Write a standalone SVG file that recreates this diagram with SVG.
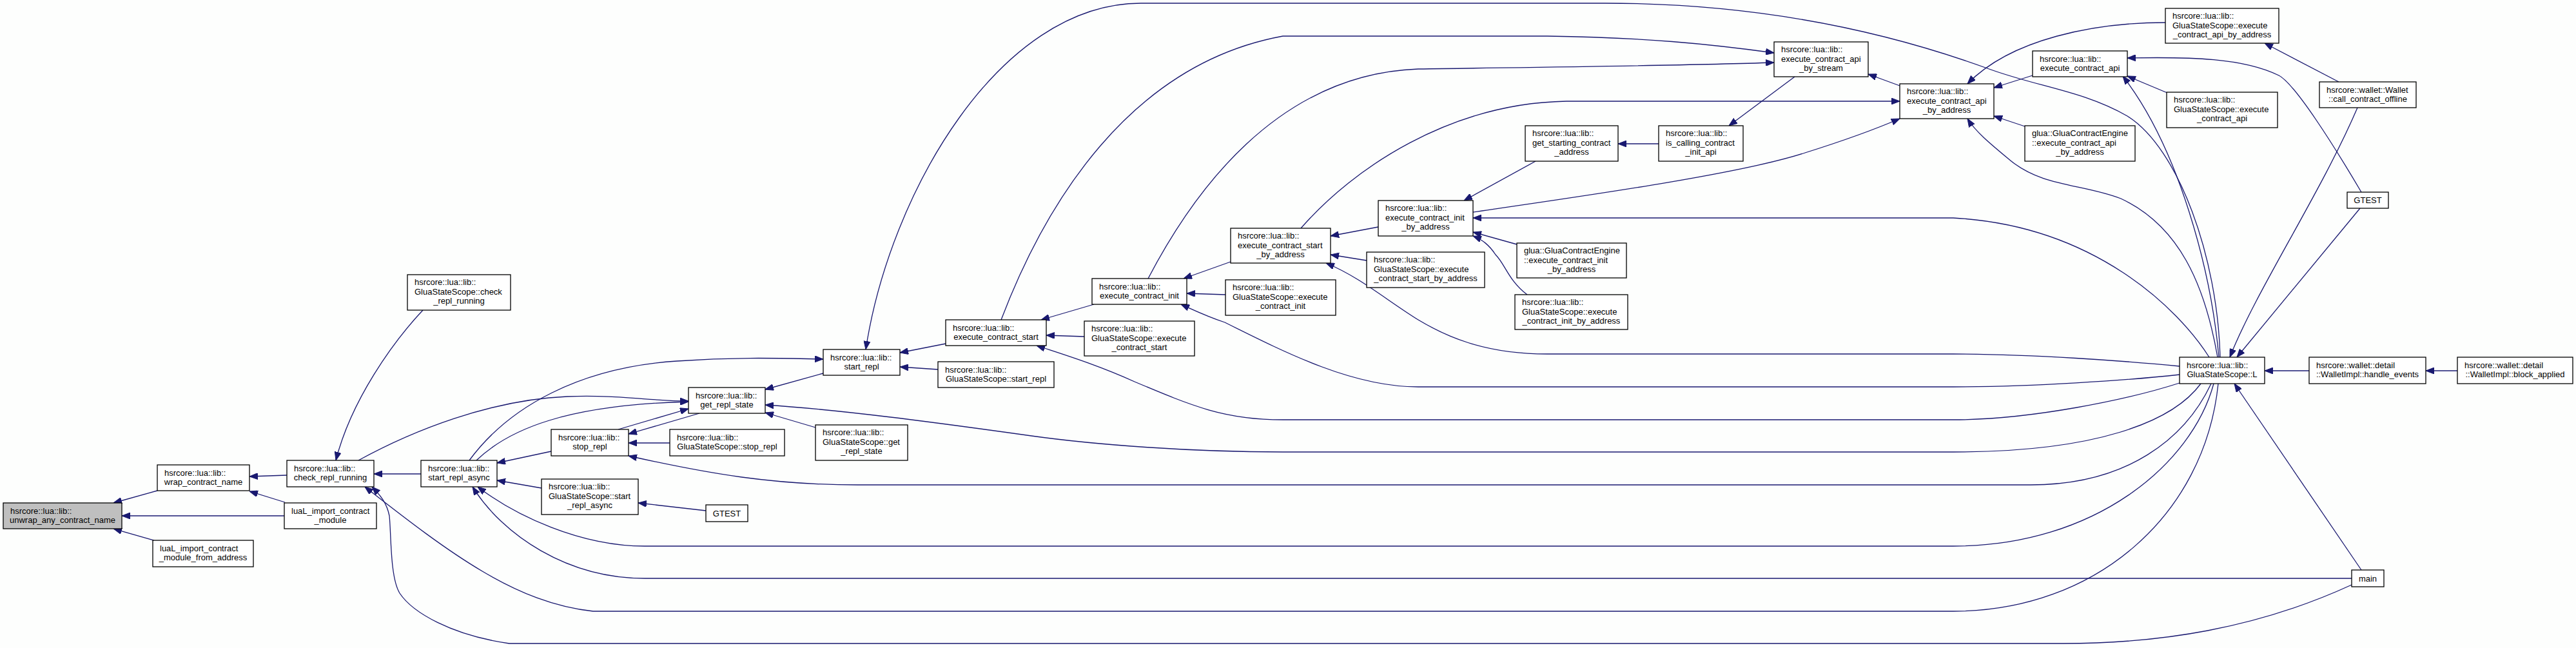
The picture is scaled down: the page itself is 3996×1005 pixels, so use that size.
<svg xmlns="http://www.w3.org/2000/svg" width="3996" height="1005" viewBox="0 0 3996 1005">
<style>
.n rect{fill:#ffffff;stroke:#000000;stroke-width:1.3}
.root rect{fill:#bfbfbf}
text{font-family:"Liberation Sans",Arial,sans-serif;font-size:13px;fill:#000000}
.c{text-anchor:middle}
.e{fill:none;stroke:#191970;stroke-width:1.3;marker-end:url(#ah)}
</style>
<defs>
<marker id="ah" viewBox="0 0 13 10" refX="13" refY="5" markerWidth="13" markerHeight="10" markerUnits="userSpaceOnUse" orient="auto">
<path d="M0,0 L13,5 L0,10 z" fill="#191970" stroke="#191970" stroke-width="1"/>
</marker>
</defs>
<rect x="0" y="0" width="3996" height="1005" fill="#fdfefd"/>
<g id="edges">
<path class="e" d="M244,761 L176,780"/>
<path class="e" d="M441,800 L189,800"/>
<path class="e" d="M239,838 L176,820"/>
<path class="e" d="M445,737 L387,739"/>
<path class="e" d="M442,779 L387,762"/>
<path class="e" d="M656,481 C610,530 545,620 521,714"/>
<path class="e" d="M653,735 L580,735"/>
<path class="e" d="M556,714 C640,668 760,620 880,615 C960,612 1010,622 1068,622"/>
<path class="e" d="M728,714 C790,630 900,570 1050,560 C1150,553 1220,556 1277,557"/>
<path class="e" d="M739,714 C790,665 880,628 1068,623"/>
<path class="e" d="M959,666 L1068,634"/>
<path class="e" d="M1085,641 L975,673"/>
<path class="e" d="M1039,687 L975,687"/>
<path class="e" d="M855,700 L771,718"/>
<path class="e" d="M840,757 L771,745"/>
<path class="e" d="M1095,792 L990,780"/>
<path class="e" d="M1277,579 L1187,604"/>
<path class="e" d="M1265,663 L1187,640"/>
<path class="e" d="M3414,595 C3370,655 3250,701 3030,701 L1990,701 C1850,701 1700,690 1600,676 C1450,655 1300,635 1187,628"/>
<path class="e" d="M3430,595 C3390,680 3300,752 3150,752 L1330,752 C1200,752 1100,735 975,707"/>
<path class="e" d="M3434,595 C3400,720 3250,847 3030,847 L1000,847 C900,847 800,800 741,755"/>
<path class="e" d="M3441,595 C3420,800 3250,948 3030,948 L920,948 C800,935 700,860 566,755"/>
<path class="e" d="M3648,897 L1000,897 C880,897 780,830 733,755"/>
<path class="e" d="M3648,907 C3500,975 3350,998 3200,998 L790,998 C700,985 640,950 620,920 C605,895 607,830 604,800 C600,780 590,768 577,755"/>
<path class="e" d="M3663,884 L3466,595"/>
<path class="e" d="M3582,575 L3513,575"/>
<path class="e" d="M3812,575 L3763,575"/>
<path class="e" d="M3657,167 C3600,300 3500,450 3459,554"/>
<path class="e" d="M3661,323 L3470,554"/>
<path class="e" d="M3628,127 L3513,67"/>
<path class="e" d="M3359,35 C3250,35 3120,60 3052,130"/>
<path class="e" d="M3663,298 C3620,225 3560,130 3535,117 C3480,90 3400,88 3300,90"/>
<path class="e" d="M3362,144 L3300,118"/>
<path class="e" d="M3442,554 C3430,420 3380,230 3293,118"/>
<path class="e" d="M3444,554 C3440,400 3380,230 3300,180 C3230,140 3160,135 3080,105 C2900,40 2700,5 2490,5 L1770,5 C1550,5 1380,300 1343,542"/>
<path class="e" d="M3440,554 C3420,440 3380,350 3290,308 C3230,285 3170,290 3120,250 C3090,225 3065,205 3052,184"/>
<path class="e" d="M3427,554 C3380,480 3250,350 3030,338 L2285,338"/>
<path class="e" d="M3381,568 C3300,560 3150,549 3030,549 L2400,549 C2300,549 2240,520 2200,496 C2150,465 2110,430 2057,408"/>
<path class="e" d="M3381,581 C3300,590 3150,600 3030,600 L2200,600 C2100,600 2000,550 1900,500 C1870,490 1850,480 1832,472"/>
<path class="e" d="M3381,594 C3300,620 3150,651 3030,651 L1990,651 C1900,651 1850,630 1760,592 C1700,565 1650,550 1608,536"/>
<path class="e" d="M2018,354 C2100,260 2250,160 2430,157 L2947,157"/>
<path class="e" d="M1781,432 C1850,300 1980,115 2200,107 C2400,104 2600,102 2752,97"/>
<path class="e" d="M1553,496 C1620,320 1750,100 1990,56 L2400,56 C2550,58 2650,68 2752,82"/>
<path class="e" d="M2784,119 L2682,195"/>
<path class="e" d="M2947,133 L2898,115"/>
<path class="e" d="M3153,117 L3093,136"/>
<path class="e" d="M3141,196 L3093,180"/>
<path class="e" d="M2285,329 C2450,305 2700,270 2800,237 C2870,215 2910,200 2947,184"/>
<path class="e" d="M2573,223 L2510,223"/>
<path class="e" d="M2382,250 L2271,311"/>
<path class="e" d="M2138,352 L2064,366"/>
<path class="e" d="M2120,404 L2064,395"/>
<path class="e" d="M2353,379 L2285,360"/>
<path class="e" d="M2369,457 C2340,435 2335,410 2320,395 C2310,380 2300,372 2285,366"/>
<path class="e" d="M1909,406 L1836,432"/>
<path class="e" d="M1901,457 L1841,455"/>
<path class="e" d="M1697,472 L1615,496"/>
<path class="e" d="M1682,522 L1623,520"/>
<path class="e" d="M1467,533 L1396,547"/>
<path class="e" d="M1455,573 L1396,569"/>
</g>
<g id="node-unwrap" class="n root"><rect x="5" y="780" width="184" height="40"/><text x="16" y="796.5">hsrcore::lua::lib::</text><text class="c" x="97" y="810.5">unwrap_any_contract_name</text></g>
<g id="node-wrap" class="n"><rect x="244" y="721" width="143" height="40"/><text x="255" y="737.5">hsrcore::lua::lib::</text><text class="c" x="315.5" y="751.5">wrap_contract_name</text></g>
<g id="node-check" class="n"><rect x="445" y="714" width="135" height="41"/><text x="456" y="730.5">hsrcore::lua::lib::</text><text class="c" x="512.5" y="744.5">check_repl_running</text></g>
<g id="node-import" class="n"><rect x="441" y="780" width="143" height="40"/><text x="452" y="796.5">luaL_import_contract</text><text class="c" x="512.5" y="810.5">_module</text></g>
<g id="node-import-addr" class="n"><rect x="237" y="838" width="156" height="41"/><text x="248" y="854.5">luaL_import_contract</text><text class="c" x="315" y="868.5">_module_from_address</text></g>
<g id="node-gss-check" class="n"><rect x="632" y="426" width="160" height="55"/><text x="643" y="442">hsrcore::lua::lib::</text><text x="643" y="456.5">GluaStateScope::check</text><text class="c" x="712" y="471">_repl_running</text></g>
<g id="node-start-async" class="n"><rect x="653" y="714" width="118" height="41"/><text x="664" y="730.5">hsrcore::lua::lib::</text><text class="c" x="712" y="744.5">start_repl_async</text></g>
<g id="node-get-state" class="n"><rect x="1068" y="601" width="119" height="40"/><text x="1079" y="617.5">hsrcore::lua::lib::</text><text class="c" x="1127.5" y="631.5">get_repl_state</text></g>
<g id="node-stop" class="n"><rect x="855" y="666" width="120" height="41"/><text x="866" y="682.5">hsrcore::lua::lib::</text><text class="c" x="915" y="696.5">stop_repl</text></g>
<g id="node-gss-stop" class="n"><rect x="1039" y="666" width="178" height="41"/><text x="1050" y="682.5">hsrcore::lua::lib::</text><text class="c" x="1128" y="696.5">GluaStateScope::stop_repl</text></g>
<g id="node-gss-start-async" class="n"><rect x="840" y="743" width="150" height="55"/><text x="851" y="759">hsrcore::lua::lib::</text><text x="851" y="773.5">GluaStateScope::start</text><text class="c" x="915" y="788">_repl_async</text></g>
<g id="node-gtest1" class="n"><rect x="1095" y="783" width="65" height="26"/><text class="c" x="1127.5" y="800.5">GTEST</text></g>
<g id="node-start-repl" class="n"><rect x="1277" y="542" width="119" height="40"/><text x="1288" y="558.5">hsrcore::lua::lib::</text><text class="c" x="1336.5" y="572.5">start_repl</text></g>
<g id="node-gss-get-state" class="n"><rect x="1265" y="659" width="143" height="55"/><text x="1276" y="675">hsrcore::lua::lib::</text><text x="1276" y="689.5">GluaStateScope::get</text><text class="c" x="1336.5" y="704">_repl_state</text></g>
<g id="node-exec-start" class="n"><rect x="1467" y="496" width="156" height="40"/><text x="1478" y="512.5">hsrcore::lua::lib::</text><text class="c" x="1545" y="526.5">execute_contract_start</text></g>
<g id="node-gss-exec-start" class="n"><rect x="1682" y="498" width="171" height="54"/><text x="1693" y="514">hsrcore::lua::lib::</text><text x="1693" y="528.5">GluaStateScope::execute</text><text class="c" x="1767.5" y="543">_contract_start</text></g>
<g id="node-gss-start-repl" class="n"><rect x="1455" y="561" width="180" height="40"/><text x="1466" y="577.5">hsrcore::lua::lib::</text><text class="c" x="1545" y="591.5">GluaStateScope::start_repl</text></g>
<g id="node-exec-init" class="n"><rect x="1694" y="432" width="147" height="40"/><text x="1705" y="448.5">hsrcore::lua::lib::</text><text class="c" x="1767.5" y="462.5">execute_contract_init</text></g>
<g id="node-start-by-addr" class="n"><rect x="1909" y="354" width="155" height="54"/><text x="1920" y="370">hsrcore::lua::lib::</text><text x="1920" y="384.5">execute_contract_start</text><text class="c" x="1986.5" y="399">_by_address</text></g>
<g id="node-gss-exec-init" class="n"><rect x="1901" y="434" width="171" height="55"/><text x="1912" y="450">hsrcore::lua::lib::</text><text x="1912" y="464.5">GluaStateScope::execute</text><text class="c" x="1986.5" y="479">_contract_init</text></g>
<g id="node-init-by-addr" class="n"><rect x="2138" y="311" width="147" height="55"/><text x="2149" y="327">hsrcore::lua::lib::</text><text x="2149" y="341.5">execute_contract_init</text><text class="c" x="2211.5" y="356">_by_address</text></g>
<g id="node-gss-start-by-addr" class="n"><rect x="2120" y="391" width="183" height="55"/><text x="2131" y="407">hsrcore::lua::lib::</text><text x="2131" y="421.5">GluaStateScope::execute</text><text class="c" x="2211.5" y="436">_contract_start_by_address</text></g>
<g id="node-get-starting" class="n"><rect x="2366" y="195" width="144" height="55"/><text x="2377" y="211">hsrcore::lua::lib::</text><text x="2377" y="225.5">get_starting_contract</text><text class="c" x="2438" y="240">_address</text></g>
<g id="node-is-calling" class="n"><rect x="2573" y="195" width="131" height="55"/><text x="2584" y="211">hsrcore::lua::lib::</text><text x="2584" y="225.5">is_calling_contract</text><text class="c" x="2638.5" y="240">_init_api</text></g>
<g id="node-glua-init" class="n"><rect x="2353" y="377" width="170" height="54"/><text x="2364" y="393">glua::GluaContractEngine</text><text x="2364" y="407.5">::execute_contract_init</text><text class="c" x="2438" y="422">_by_address</text></g>
<g id="node-gss-init-by-addr" class="n"><rect x="2350" y="457" width="175" height="54"/><text x="2361" y="473">hsrcore::lua::lib::</text><text x="2361" y="487.5">GluaStateScope::execute</text><text class="c" x="2437.5" y="502">_contract_init_by_address</text></g>
<g id="node-api-by-stream" class="n"><rect x="2752" y="65" width="146" height="54"/><text x="2763" y="81">hsrcore::lua::lib::</text><text x="2763" y="95.5">execute_contract_api</text><text class="c" x="2825" y="110">_by_stream</text></g>
<g id="node-api-by-addr" class="n"><rect x="2947" y="130" width="146" height="54"/><text x="2958" y="146">hsrcore::lua::lib::</text><text x="2958" y="160.5">execute_contract_api</text><text class="c" x="3020" y="175">_by_address</text></g>
<g id="node-api" class="n"><rect x="3153" y="79" width="147" height="40"/><text x="3164" y="95.5">hsrcore::lua::lib::</text><text class="c" x="3226.5" y="109.5">execute_contract_api</text></g>
<g id="node-glua-api" class="n"><rect x="3141" y="195" width="171" height="55"/><text x="3152" y="211">glua::GluaContractEngine</text><text x="3152" y="225.5">::execute_contract_api</text><text class="c" x="3226.5" y="240">_by_address</text></g>
<g id="node-gss-api-by-addr" class="n"><rect x="3359" y="13" width="176" height="54"/><text x="3370" y="29">hsrcore::lua::lib::</text><text x="3370" y="43.5">GluaStateScope::execute</text><text class="c" x="3447" y="58">_contract_api_by_address</text></g>
<g id="node-gss-api" class="n"><rect x="3361" y="143" width="172" height="55"/><text x="3372" y="159">hsrcore::lua::lib::</text><text x="3372" y="173.5">GluaStateScope::execute</text><text class="c" x="3447" y="188">_contract_api</text></g>
<g id="node-wallet" class="n"><rect x="3598" y="127" width="150" height="40"/><text x="3609" y="143.5">hsrcore::wallet::Wallet</text><text class="c" x="3673" y="157.5">::call_contract_offline</text></g>
<g id="node-gtest2" class="n"><rect x="3641" y="298" width="64" height="25"/><text class="c" x="3673" y="315">GTEST</text></g>
<g id="node-L" class="n"><rect x="3381" y="554" width="132" height="41"/><text x="3392" y="570.5">hsrcore::lua::lib::</text><text class="c" x="3447" y="584.5">GluaStateScope::L</text></g>
<g id="node-handle" class="n"><rect x="3582" y="554" width="181" height="41"/><text x="3593" y="570.5">hsrcore::wallet::detail</text><text class="c" x="3672.5" y="584.5">::WalletImpl::handle_events</text></g>
<g id="node-block" class="n"><rect x="3812" y="554" width="179" height="41"/><text x="3823" y="570.5">hsrcore::wallet::detail</text><text class="c" x="3901.5" y="584.5">::WalletImpl::block_applied</text></g>
<g id="node-main" class="n"><rect x="3648" y="884" width="50" height="26"/><text class="c" x="3673" y="901.5">main</text></g>
</svg>
